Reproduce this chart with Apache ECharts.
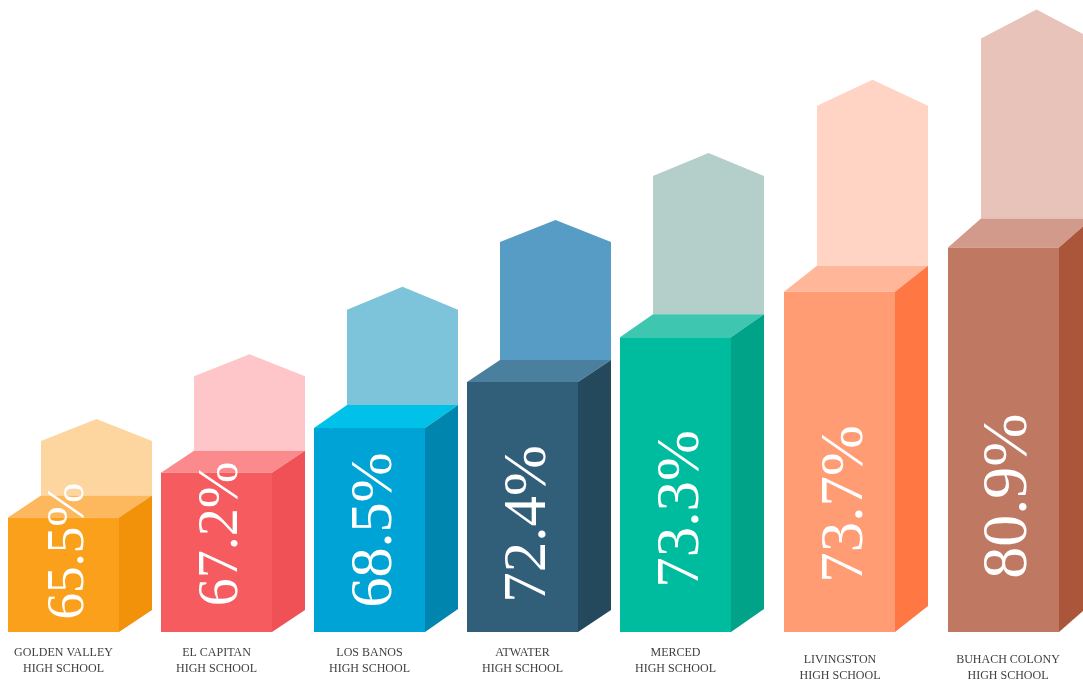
<!DOCTYPE html>
<html>
<head>
<meta charset="utf-8">
<script src="https://cdn.jsdelivr.net/npm/echarts@6/dist/echarts.min.js"></script>
<style>
  html, body { margin: 0; padding: 0; background: #ffffff; }
  #chart { width: 1083px; height: 684px; }
</style>
</head>
<body>
<div id="chart"></div>
<script>
// ---- data ----
const schools = [
  'GOLDEN VALLEY\nHIGH SCHOOL',
  'EL CAPITAN\nHIGH SCHOOL',
  'LOS BANOS\nHIGH SCHOOL',
  'ATWATER\nHIGH SCHOOL',
  'MERCED\nHIGH SCHOOL',
  'LIVINGSTON\nHIGH SCHOOL',
  'BUHACH COLONY\nHIGH SCHOOL'
];
const rates = [65.5, 67.2, 68.5, 72.4, 73.3, 73.7, 80.9];
// decorative block heights (axis units) as drawn in the picture
const blockHeights = [18.4, 25.6, 32.8, 40.2, 47.4, 54.7, 61.8];
// decorative backdrop ("house") shoulder heights (axis units)
const backdropHeights = [30.7, 41.1, 51.8, 62.7, 73.3, 84.6, 95.4];

// ---- style ----
const COLORS = [
  { front: '#FBA01A', side: '#F2920B', top: '#FDB85E', back: '#FDD59F' },
  { front: '#F65B5F', side: '#EF5157', top: '#FA8A8C', back: '#FEC6C9' },
  { front: '#00A3D5', side: '#0086AE', top: '#00C1E8', back: '#7DC4DA' },
  { front: '#315E78', side: '#24485C', top: '#4A7F9E', back: '#579CC4' },
  { front: '#00BC9F', side: '#00A388', top: '#3EC6B0', back: '#B4CECA' },
  { front: '#FF9C73', side: '#FF7743', top: '#FFB699', back: '#FFD4C4' },
  { front: '#BF7862', side: '#AB563A', top: '#D29A8A', back: '#E7C3B9' }
];
const FRONT_W = 111;
const DEPTH_X = 33;
const DEPTH_Y = [22, 22, 23, 22, 23, 26, 29];
const X_SHIFT = [0, 0, 0, 0, 0, 11, 22];
const LABEL_FONT = [53, 56, 60, 61, 61, 61, 64];
const LABEL_LIFT = [81, 98, 102, 108, 123, 128, 136];
const LABEL_DX = 6;

const chart = echarts.init(document.getElementById('chart'), null, { renderer: 'canvas' });

function renderItem(params, api) {
  const i = params.dataIndex;
  const cat = api.value(0);
  const base = api.coord([cat, 0]);
  const topPt = api.coord([cat, api.value(1)]);
  const backPt = api.coord([cat, api.value(2)]);
  const cx = base[0] + X_SHIFT[i];
  const xL = cx - FRONT_W / 2;
  const xR = cx + FRONT_W / 2;
  const yB = base[1];
  const yT = topPt[1];
  const yH = backPt[1];
  const dx = DEPTH_X;
  const dy = DEPTH_Y[i];
  const c = COLORS[i];
  const rate = api.value(3);

  return {
    type: 'group',
    children: [
      {
        type: 'polygon',
        shape: { points: [[xL + dx, yT - dy], [xL + dx, yH], [cx + dx, yH - dy], [xR + dx, yH], [xR + dx, yT - dy]] },
        style: { fill: c.back }
      },
      {
        type: 'polygon',
        shape: { points: [[xL, yT], [xR, yT], [xR + dx, yT - dy], [xL + dx, yT - dy]] },
        style: { fill: c.top }
      },
      {
        type: 'polygon',
        shape: { points: [[xR, yT], [xR + dx, yT - dy], [xR + dx, yB - dy], [xR, yB]] },
        style: { fill: c.side }
      },
      {
        type: 'rect',
        shape: { x: xL, y: yT, width: FRONT_W, height: yB - yT },
        style: { fill: c.front }
      },
      {
        type: 'text',
        x: cx + LABEL_DX,
        y: yB - LABEL_LIFT[i],
        rotation: Math.PI / 2,
        style: {
          text: rate.toFixed(1) + '%',
          fill: '#ffffff',
          fontSize: LABEL_FONT[i],
          fontFamily: '"Liberation Serif", "DejaVu Serif", serif',
          align: 'center',
          verticalAlign: 'middle'
        }
      }
    ]
  };
}

const seriesData = schools.map((s, i) => [i, blockHeights[i], backdropHeights[i], rates[i]]);

const catData = schools.map((s, i) => {
  if (i === 5) return { value: s, textStyle: { padding: [7, 0, 0, 23] } };
  if (i === 6) return { value: s, textStyle: { padding: [7, 0, 0, 53] } };
  return s;
});

chart.setOption({
  backgroundColor: '#ffffff',
  animation: false,
  grid: { left: 63.5, right: 101.5, top: 10, bottom: 49 },
  xAxis: {
    type: 'category',
    data: catData,
    boundaryGap: false,
    axisLine: { show: false },
    axisTick: { show: false },
    splitLine: { show: false },
    axisLabel: {
      interval: 0,
      margin: 13,
      color: '#404040',
      fontSize: 12,
      lineHeight: 16,
      fontFamily: '"Liberation Serif", "DejaVu Serif", serif',
      align: 'center'
    }
  },
  yAxis: {
    type: 'value',
    min: 0,
    max: 100,
    show: false
  },
  series: [{
    type: 'custom',
    clip: false,
    renderItem: renderItem,
    encode: { x: 0, y: [1, 2] },
    data: seriesData
  }]
});
</script>
</body>
</html>
